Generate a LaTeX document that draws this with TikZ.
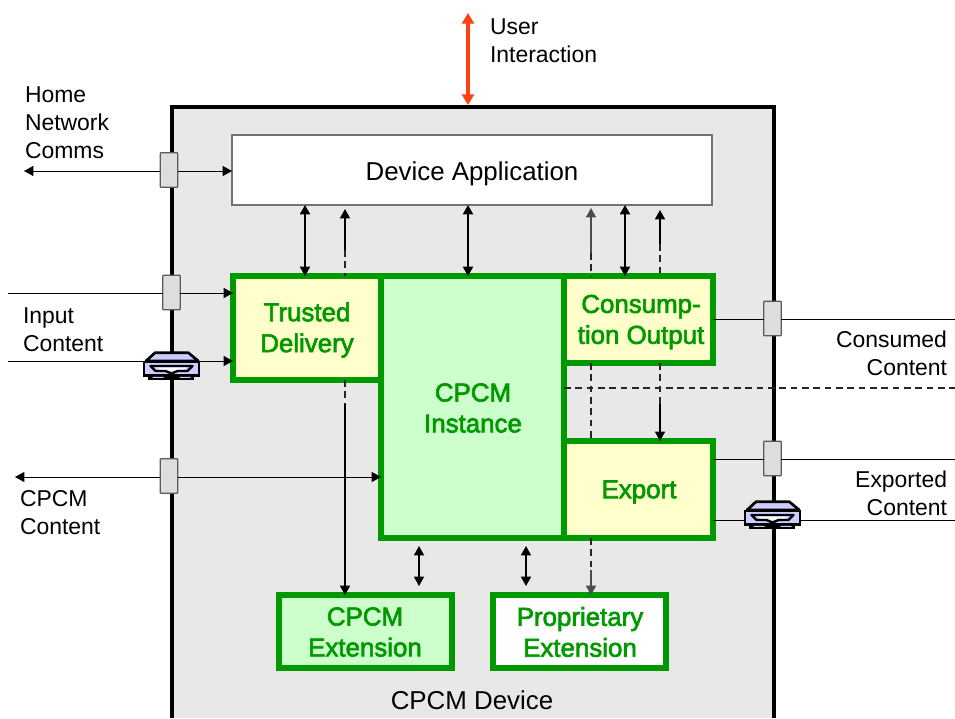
\documentclass[tikz,border=0pt]{standalone}
\usepackage{fontspec}
\setmainfont{Liberation Sans}
\newfontfamily\greenfont[FakeBold=2.5]{Liberation Sans}
\usetikzlibrary{arrows.meta}
\definecolor{devgray}{HTML}{E8E8E8}
\definecolor{cgreen}{HTML}{009900}
\definecolor{cyellow}{HTML}{FFFFCC}
\definecolor{clight}{HTML}{CCFFCC}
\definecolor{cgate}{HTML}{DDDDDD}
\definecolor{cgateline}{HTML}{5A5A5A}
\definecolor{cred}{HTML}{FF4010}
\definecolor{clav}{HTML}{CCCCFF}
\tikzset{
  x=0.75pt,y=-0.75pt,
  block/.style={draw=cgreen,line width=4.6pt,inner sep=0pt,outer sep=0pt,text=cgreen,align=center,
     font=\greenfont\fontsize{19.4}{23.2}\selectfont},
  blocktext/.style={text=cgreen,font=\greenfont\fontsize{19.4}{23.2}\selectfont,align=center,inner sep=0pt},
  gate/.style={draw=cgateline,fill=cgate,line width=0.9pt,rounded corners=0.5pt,inner sep=0pt,outer sep=0pt,
     minimum width=13pt,minimum height=26pt},
  lbl/.style={inner sep=0pt,outer sep=0pt,align=left,font=\fontsize{17.2}{21}\selectfont},
  tipped/.style={-{Triangle[length=7pt,width=7.5pt]}},
  both/.style={{Triangle[length=7pt,width=7.5pt]}-{Triangle[length=7pt,width=7.5pt]}},
  wire/.style={line width=0.7pt,black},
  thick wire/.style={line width=1.5pt,black},
  dash wire/.style={line width=0.8pt,dash pattern=on 5pt off 3.5pt,black!85},
  icon/.pic={
    \draw[fill=clav,line width=2pt,line join=round] (-25.5,-5)--(-16.5,-13.3)--(16.8,-13.3)--(26.8,-5)--cycle;
    \draw[fill=black,draw=black,line width=1pt] (-23,9)rectangle(22,13.3);
    \draw[fill=clav,line width=2pt] (-27.5,-4)rectangle(27.5,9.3);
    \draw[line width=1.8pt,line join=round] (-21,0)--(21,0)--(16,5)--(6,5)--(0,7.5)--(-6,5)--(-16,5)--cycle;
    \fill[white!90!clav] (-15,1.6)--(15,1.6)--(12,3.4)--(6,3.4)--(0,5.6)--(-6,3.4)--(-12,3.4)--cycle;
    \fill[clav] (-19,10.8)rectangle(-8,11.9) (8,10.8)rectangle(19,11.9);
  }
}
\begin{document}
\begin{tikzpicture}
\useasboundingbox (0,0) rectangle (955,718);
% device body
\fill[devgray] (172,107) rectangle (774,718);
\draw[line width=3pt,black,line join=miter] (172,718)--(172,107)--(774,107)--(774,718);
\node[lbl,anchor=center,font=\fontsize{19.4}{23}\selectfont] (devlabel) at (472,700) {CPCM Device};
% blocks
\node[draw=black!55,fill=white,line width=0.8pt,inner sep=0pt,outer sep=0pt,minimum width=360pt,minimum height=52.5pt,
      font=\fontsize{19.4}{23}\selectfont] (app) at (472,170) {\smash{\raisebox{-8.2pt}{Device Application}}};
\node[block,fill=cyellow,minimum width=111pt,minimum height=78pt] (td) at (307,328) {};
\node[block,fill=clight,minimum width=137.25pt,minimum height=196.5pt] (inst) at (472.5,407) {};
\node[block,fill=cyellow,minimum width=111.75pt,minimum height=65.25pt] (cons) at (638.5,319.5) {};
\node[block,fill=cyellow,minimum width=111.75pt,minimum height=72.75pt] (exp) at (638.5,489.5) {};
\node[block,fill=clight,minimum width=129.75pt,minimum height=54.75pt] (ext) at (365.5,631.5) {};
\node[block,fill=white,minimum width=129.75pt,minimum height=54.75pt] (prop) at (579.5,631.5) {};
\node[blocktext] (t0) at (307,330) {Trusted\\Delivery};
\node[blocktext] (t1) at (473,408) {CPCM\\Instance};
\node[blocktext] (t2) at (641,322) {Consump-\\tion Output};
\node[blocktext] (t3) at (639,492) {Export};
\node[blocktext] (t4) at (365,632) {CPCM\\Extension};
\node[blocktext] (t5) at (580,632) {Proprietary\\Extension};
% gates
\node[gate] (g1) at (169,170) {};
\node[gate] (g2) at (171.5,292.5) {};
\node[gate] (g3) at (169,476) {};
\node[gate] (g4) at (772.5,318.5) {};
\node[gate] (g5) at (772.5,458.5) {};
% free ends
\coordinate (uiT) at (468,13);
\coordinate (uiB) at (468,105);
\coordinate (homeEnd) at (24,171);
\coordinate (in1) at (8,293);
\coordinate (in2) at (8,361);
\coordinate (cpEnd) at (15,477);
\coordinate (r1) at (955,319);
\coordinate (r2) at (955,459);
\coordinate (r3) at (955,520);
\coordinate (d1) at (955,388);
% user interaction
\draw[cred,line width=2.6pt,{Triangle[length=8pt,width=9pt]}-{Triangle[length=8pt,width=9pt]}] (uiT)--(uiB);
% outer wires
\draw[wire,tipped] (g1.west|-homeEnd)--(homeEnd);
\draw[wire,tipped] (g1.east|-homeEnd)--(app.west|-homeEnd);
\draw[wire] (in1)--(g2.west|-in1);
\draw[wire,tipped] (g2.east|-in1)--(td.west|-in1);
\draw[wire,tipped] (in2)--(td.west|-in2);
\draw[wire,tipped] (g3.west|-cpEnd)--(cpEnd);
\draw[wire,tipped] (g3.east|-cpEnd)--(inst.west|-cpEnd);
\draw[wire] (cons.east|-r1)--(g4.west|-r1);
\draw[wire] (g4.east|-r1)--(r1);
\draw[wire] (exp.east|-r2)--(g5.west|-r2);
\draw[wire] (g5.east|-r2)--(r2);
\draw[wire] (exp.east|-r3)--(r3);
\draw[dash wire] (inst.east|-d1)--(d1);
% app <-> blocks
\draw[thick wire,both] (305,0|-app.south)--(305,0|-td.north);
\draw[thick wire,both] (468,0|-app.south)--(468,0|-inst.north);
\draw[thick wire,both] (625,0|-app.south)--(625,0|-cons.north);
% partly dashed up-arrows
\coordinate (a1) at (345,250);
\coordinate (a2) at (591,253);
\coordinate (a3) at (660,244);
\coordinate (top1) at (345,209);
\coordinate (top2) at (591,208);
\coordinate (top3) at (660,210);
\draw[thick wire,line width=1.1pt,tipped] (a1)--(top1);
\draw[dash wire] (a1)--(345,0|-td.north);
\draw[wire,black!70,line width=1.1pt,tipped] (a2)--(top2);
\draw[dash wire] (a2)--(591,0|-cons.north);
\draw[thick wire,line width=1.2pt,tipped] (a3)--(top3);
\draw[dash wire] (a3)--(660,0|-cons.north);
% lower continuations
\coordinate (b1) at (345,404);
\draw[dash wire] (345,0|-td.south)--(b1);
\draw[thick wire,line width=1.1pt,tipped] (b1)--(345,0|-ext.north);
\draw[dash wire] (591,0|-cons.south)--(591,0|-exp.north);
\coordinate (b2) at (591,570);
\draw[dash wire] (591,0|-exp.south)--(b2);
\draw[wire,black!70,line width=1.1pt,tipped] (b2)--(591,0|-prop.north);
\coordinate (b3) at (660,404);
\draw[dash wire] (660,0|-cons.south)--(b3);
\draw[thick wire,line width=1.1pt,tipped] (b3)--(660,0|-exp.north);
% bottom double arrows
\coordinate (e1) at (419,546);
\coordinate (e2) at (419,586);
\coordinate (p1) at (526,546);
\coordinate (p2) at (526,586);
\draw[thick wire,line width=1.1pt,both] (e1)--(e2);
\draw[thick wire,line width=1.1pt,both] (p1)--(p2);
% icons
\pic at (171.5,366) {icon};
\pic at (772.5,515) {icon};
% labels
\node[lbl,anchor=west] (l1) at (490,41) {User\\Interaction};
\node[lbl,anchor=west] (l2) at (25,123) {Home\\Network\\Comms};
\node[lbl,anchor=west] (l3) at (23,330) {Input\\Content};
\node[lbl,anchor=west] (l4) at (20,513) {CPCM\\Content};
\node[lbl,anchor=east,align=right] (l5) at (947,353) {Consumed\\Content};
\node[lbl,anchor=east,align=right] (l6) at (947,493) {Exported\\Content};
\end{tikzpicture}
\end{document}
